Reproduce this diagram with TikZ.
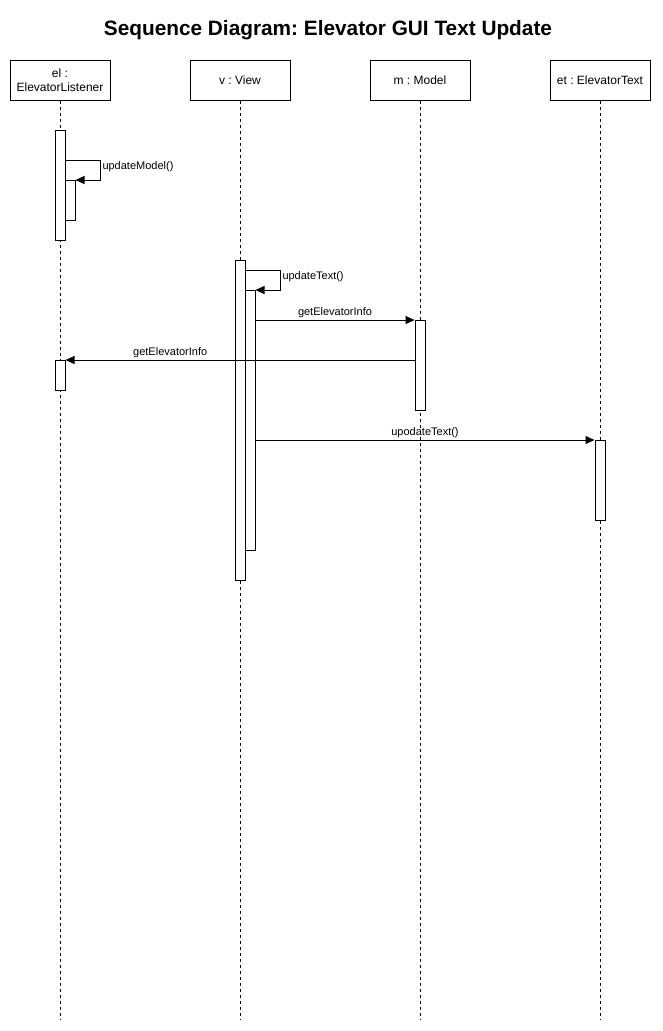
\documentclass[tikz,border=0pt]{standalone}
\usepackage{fontspec}
\setmainfont{Liberation Sans}
\usetikzlibrary{arrows.meta}
\frenchspacing

\tikzset{
  obj/.style={draw, fill=white, minimum width=100pt, minimum height=40pt,
    align=center, font=\fontsize{12}{14}\selectfont},
  life/.style={dash pattern=on 3pt off 3pt},
  act/.style={draw, fill=white, minimum width=10pt, inner sep=0pt, anchor=north},
  msg/.style={-{Triangle[length=9pt,width=8pt]}},
  lbl/.style={font=\fontsize{11}{13}\selectfont, inner sep=1.5pt},
}

\begin{document}
\begin{tikzpicture}[x=1pt, y=-1pt, line width=1pt]
  \useasboundingbox (0,0) rectangle (662,1031);

  \node[font=\fontsize{20.8}{24}\selectfont\bfseries] (title) at (328,30)
    {Sequence Diagram: Elevator GUI Text Update};

  % objects and lifelines
  \node[obj] (el) at (60,80) {el :\\ElevatorListener};
  \node[obj] (v) at (240,80) {v : View};
  \node[obj] (m) at (420,80) {m : Model};
  \node[obj] (et) at (600,80) {et : ElevatorText};

  \foreach \n in {el,v,m,et}
    \draw[life] (\n.south) -- (\n.south |- 0,1020);

  % el
  \node[act, minimum height=110pt] (elact) at (60,130) {};
  \node[act, minimum height=40pt] (elin) at (70,180) {};
  \draw[msg] ([yshift=-30pt]elact.north east) -- ++(35,0)
    node[lbl, below right] {updateModel()} |- (elin.north east);

  % v
  \node[act, minimum height=320pt] (vact) at (240,260) {};
  \node[act, minimum height=260pt] (vin) at (250,290) {};
  \draw[msg] ([yshift=-10pt]vact.north east) -- ++(35,0)
    node[lbl, below right] {updateText()} |- (vin.north east);

  % messages
  \node[act, minimum height=90pt] (mact) at (420,320) {};
  \draw[msg] (vin.east |- mact.north west) -- node[lbl, above] {getElevatorInfo} (mact.north west);

  \node[act, minimum height=30pt] (elb) at (60,360) {};
  \draw[msg] (mact.west |- elb.north east) -- node[lbl, above, pos=0.7] {getElevatorInfo} (elb.north east);

  \node[act, minimum height=80pt] (etact) at (600,440) {};
  \draw[msg] (vin.east |- etact.north west) -- node[lbl, above] {upodateText()} (etact.north west);
\end{tikzpicture}
\end{document}
